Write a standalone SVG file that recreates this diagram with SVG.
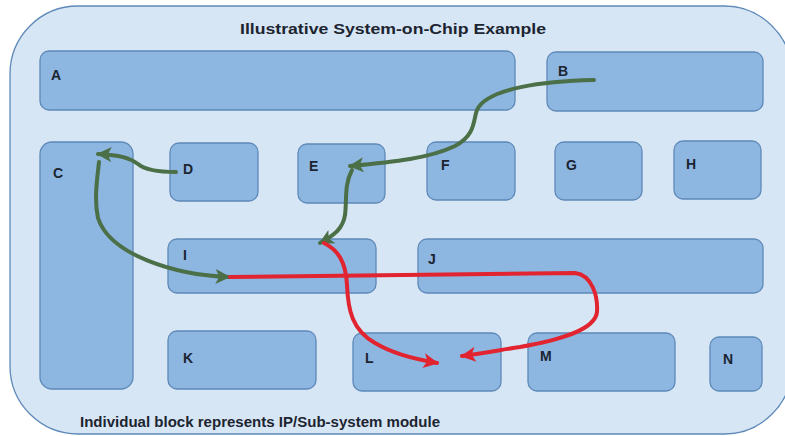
<svg xmlns="http://www.w3.org/2000/svg" width="785" height="436" viewBox="0 0 785 436">
<style>
.blk{fill:#8DB6E1;stroke:#5E89B8;stroke-width:1.3}
.lbl{font-family:"Liberation Sans",Arial,sans-serif;font-weight:bold;font-size:14px;fill:#1C2430}
.g{fill:none;stroke:#4B6F46;stroke-width:4;stroke-linecap:round}
.r{fill:none;stroke:#E1242F;stroke-width:4;stroke-linecap:round}
</style>
<defs>
<marker id="ag" viewBox="0 0 10 10" refX="9" refY="5" markerWidth="17" markerHeight="15" markerUnits="userSpaceOnUse" orient="auto"><path d="M0,0 L10,5 L0,10 L2.5,5 z" fill="#4B6F46"/></marker>
<marker id="ar" viewBox="0 0 10 10" refX="9" refY="5" markerWidth="17" markerHeight="15" markerUnits="userSpaceOnUse" orient="auto"><path d="M0,0 L10,5 L0,10 L2.5,5 z" fill="#E1242F"/></marker>
</defs>
<rect width="785" height="436" fill="#FFFFFF"/>
<g id="container">
<rect x="10" y="6" width="782" height="428" rx="68" ry="68" fill="#D7E6F5" stroke="#5E89B8" stroke-width="1.3"/>
<text x="393" y="34" text-anchor="middle" class="lbl" font-size="15" textLength="306" lengthAdjust="spacingAndGlyphs">Illustrative System-on-Chip Example</text>
<text x="80" y="427" class="lbl" font-size="13" textLength="360" lengthAdjust="spacingAndGlyphs">Individual block represents IP/Sub-system module</text>
</g>
<g id="A"><rect class="blk" x="40" y="51" width="475" height="59" rx="9"/><text class="lbl" x="51" y="80">A</text></g>
<g id="B"><rect class="blk" x="547" y="52" width="216" height="59" rx="9"/><text class="lbl" x="558" y="76">B</text></g>
<g id="C"><rect class="blk" x="40" y="142" width="93" height="247" rx="12"/><text class="lbl" x="53" y="178">C</text></g>
<g id="D"><rect class="blk" x="170" y="143" width="88" height="58" rx="9"/><text class="lbl" x="183" y="174">D</text></g>
<g id="E"><rect class="blk" x="298" y="144" width="87" height="59" rx="9"/><text class="lbl" x="309" y="171">E</text></g>
<g id="F"><rect class="blk" x="427" y="142" width="88" height="58" rx="9"/><text class="lbl" x="441" y="170">F</text></g>
<g id="G"><rect class="blk" x="555" y="142" width="87" height="58" rx="9"/><text class="lbl" x="566" y="170">G</text></g>
<g id="H"><rect class="blk" x="674" y="141" width="87" height="58" rx="9"/><text class="lbl" x="686" y="169">H</text></g>
<g id="I"><rect class="blk" x="168" y="239" width="208" height="54" rx="9"/><text class="lbl" x="183" y="260">I</text></g>
<g id="J"><rect class="blk" x="418" y="239" width="345" height="54" rx="9"/><text class="lbl" x="428" y="264">J</text></g>
<g id="K"><rect class="blk" x="168" y="331" width="148" height="58" rx="9"/><text class="lbl" x="183" y="363">K</text></g>
<g id="L"><rect class="blk" x="353" y="333" width="148" height="58" rx="9"/><text class="lbl" x="365" y="363">L</text></g>
<g id="M"><rect class="blk" x="528" y="333" width="147" height="58" rx="9"/><text class="lbl" x="540" y="361">M</text></g>
<g id="N"><rect class="blk" x="710" y="337" width="52" height="54" rx="9"/><text class="lbl" x="723" y="364">N</text></g>
<g id="connectors">
<path class="g" d="M594,80 C545,81 487,88 477,110 C473,120 476,135 455,146 C430,158 395,162 350,166" marker-end="url(#ag)"/>
<path class="g" d="M352,170 C344,185 347,200 345,215 C343,228 335,235 320,243" marker-end="url(#ag)"/>
<path class="g" d="M176,172 C160,172 145,170 138,164 C130,158 120,155 98,154" marker-end="url(#ag)"/>
<path class="g" d="M99,162 C97,180 94,200 98,218 C110,255 175,275 229,277" marker-end="url(#ag)"/>
<path class="r" d="M230,277 L575,273 C592,275 598,296 597,312 C595,330 560,340 520,347 C500,350 485,353 462,356" marker-end="url(#ar)"/>
<path class="r" d="M324,243 C338,250 346,262 347,285 C348,310 352,330 375,343 C392,353 410,358 437,363" marker-end="url(#ar)"/>
</g>
</svg>
